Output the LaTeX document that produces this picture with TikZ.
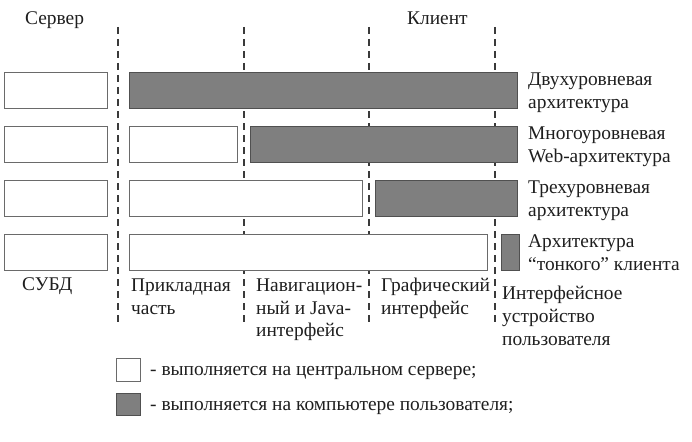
\documentclass[tikz,border=0pt]{standalone}
\usepackage{fontspec}
\setmainfont{Liberation Serif}
\definecolor{grayfill}{HTML}{7F7F7F}
\definecolor{grayedge}{HTML}{505050}
\definecolor{whiteedge}{HTML}{6A6A6A}
\definecolor{dashcol}{HTML}{3A3A3A}
\definecolor{txt}{HTML}{1E1E1E}
\tikzset{
  bx/.style={inner sep=0pt, outer sep=0pt, anchor=north west, minimum height=36pt, line width=0.9pt},
  wbox/.style={bx, draw=whiteedge, fill=white},
  gbox/.style={bx, draw=grayedge, fill=grayfill},
  sep/.style={draw=dashcol, line width=1.9pt, dash pattern=on 7pt off 5pt},
  lbl/.style={inner sep=0pt, anchor=base west, text=txt, font=\fontsize{19.4}{22}\selectfont},
}
\begin{document}
\begin{tikzpicture}[x=1pt,y=-1pt]
\useasboundingbox (0,0) rectangle (692,441);
% dashed separators
\foreach \xx/\nm in {118/s1,244/s2,369/s3,495/s4}{
  \coordinate (\nm t) at (\xx,27);
  \coordinate (\nm b) at (\xx,323);
  \draw[sep] (\nm t) -- (\nm b);
}
% row 1
\node[wbox, minimum width=103pt] (r1a) at (4,72) {};
\node[gbox, minimum width=388pt] (r1b) at (129,72) {};
% row 2
\node[wbox, minimum width=103pt] (r2a) at (4,126) {};
\node[wbox, minimum width=108pt] (r2b) at (129,126) {};
\node[gbox, minimum width=267pt] (r2c) at (250,126) {};
% row 3
\node[wbox, minimum width=103pt] (r3a) at (4,180) {};
\node[wbox, minimum width=233pt] (r3b) at (129,180) {};
\node[gbox, minimum width=142pt] (r3c) at (375,180) {};
% row 4
\node[wbox, minimum width=103pt] (r4a) at (4,234) {};
\node[wbox, minimum width=358pt] (r4b) at (129,234) {};
\node[gbox, minimum width=18pt] (r4c) at (501,234) {};
% headers
\node[lbl] (server) at (25,25) {Сервер};
\node[lbl] (client) at (407,25) {Клиент};
% right labels
\node[lbl] (l1a) at (528,85) {Двухуровневая};
\node[lbl] (l1b) at (528,108) {архитектура};
\node[lbl] (l2a) at (528,139) {Многоуровневая};
\node[lbl] (l2b) at (528,162) {Web-архитектура};
\node[lbl] (l3a) at (528,193) {Трехуровневая};
\node[lbl] (l3b) at (528,216) {архитектура};
\node[lbl] (l4a) at (528,247) {Архитектура};
\node[lbl] (l4b) at (528,270) {“тонкого” клиента};
% bottom labels
\node[lbl] (b1) at (22,290) {СУБД};
\node[lbl] (b2a) at (131,291) {Прикладная};
\node[lbl] (b2b) at (131,314) {часть};
\node[lbl] (b3a) at (256,291) {Навигацион-};
\node[lbl] (b3b) at (256,314) {ный и Java-};
\node[lbl] (b3c) at (256,336) {интерфейс};
\node[lbl] (b4a) at (381,291) {Графический};
\node[lbl] (b4b) at (381,314) {интерфейс};
\node[lbl] (b5a) at (502,299) {Интерфейсное};
\node[lbl] (b5b) at (502,322) {устройство};
\node[lbl] (b5c) at (502,345) {пользователя};
% legend
\node[wbox, minimum width=24pt, minimum height=23pt] (legw) at (116,358) {};
\node[gbox, minimum width=24pt, minimum height=22pt] (legg) at (116,393) {};
\node[lbl] (leg1) at (150,375) {- выполняется на центральном сервере;};
\node[lbl] (leg2) at (150,410) {- выполняется на компьютере пользователя;};
\end{tikzpicture}
\end{document}
